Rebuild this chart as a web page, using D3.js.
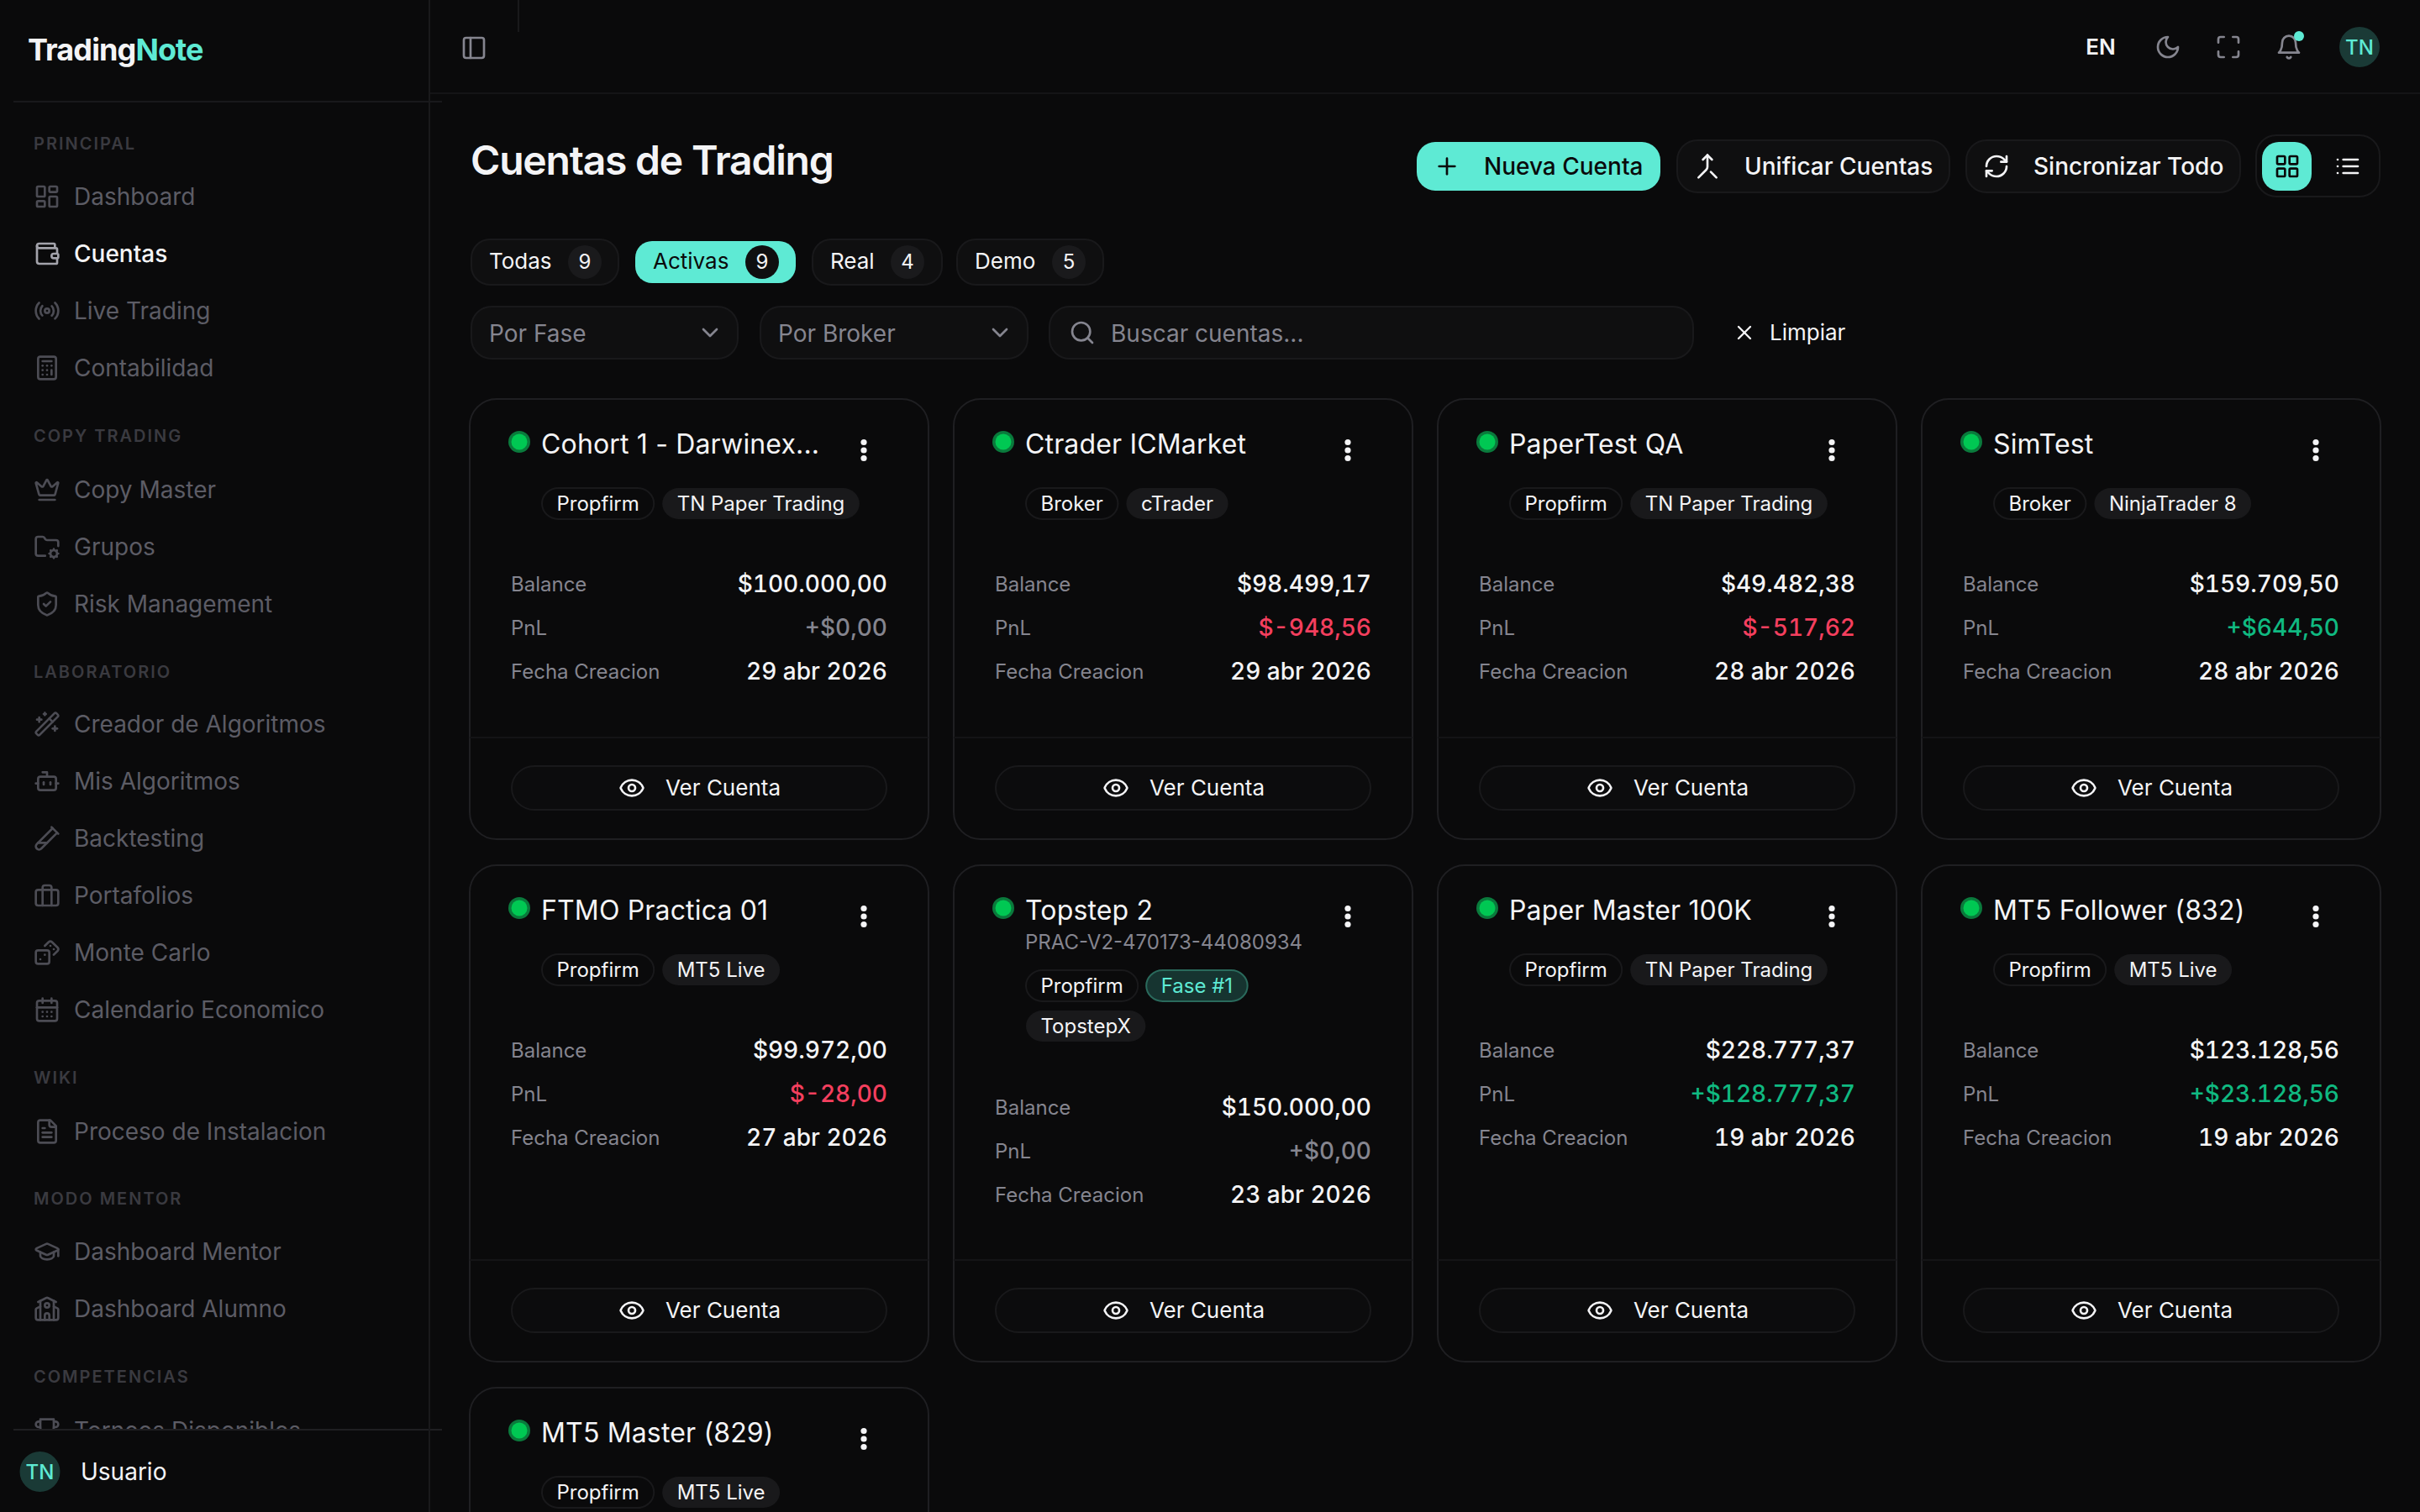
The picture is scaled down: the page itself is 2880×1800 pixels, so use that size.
<!DOCTYPE html>
<html>
<head>
<meta charset="utf-8">
<script src="https://cdn.jsdelivr.net/npm/d3@7"></script>
<style>
  html, body { margin: 0; background: #0a0a0b; overflow: hidden; }
  svg { display: block; }
  text { font-family: Inter, "Noto Sans", sans-serif; }
  .num { font-variant-numeric: tabular-nums; }
</style>
</head>
<body>
<svg id="page"></svg>
<script>
// accounts, in the order of the cards
var accountNames = ["Cohort 1 - Darwinex...", "Ctrader ICMarket", "PaperTest QA", "SimTest", "FTMO Practica 01", "Topstep 2", "Paper Master 100K", "MT5 Follower (832)", "MT5 Master (829)"];
var accountLogins = [null, null, null, null, null, "PRAC-V2-470173-44080934", null, null, null];
var accountTypes = ["Propfirm", "Broker", "Propfirm", "Broker", "Propfirm", "Propfirm", "Propfirm", "Propfirm", "Propfirm"];
var accountPhases = [null, null, null, null, null, "Fase #1", null, null, null];
var accountPlatforms = ["TN Paper Trading", "cTrader", "TN Paper Trading", "NinjaTrader 8", "MT5 Live", "TopstepX", "TN Paper Trading", "MT5 Live", "MT5 Live"];
var balances = [100000, 98499.17, 49482.38, 159709.5, 99972, 150000, 228777.37, 123128.56, 0];
var pnls = [0, -948.56, -517.62, 644.5, -28, 0, 128777.37, 23128.56, 0];
var createdDates = ["29 abr 2026", "29 abr 2026", "28 abr 2026", "28 abr 2026", "27 abr 2026", "23 abr 2026", "19 abr 2026", "19 abr 2026", ""];

var tabNames = ["Todas", "Activas", "Real", "Demo"];
var tabCounts = [9, 9, 4, 5];
var statLabels = ["Balance", "PnL", "Fecha Creacion"];

var navSections = ["PRINCIPAL", "COPY TRADING", "LABORATORIO", "WIKI", "MODO MENTOR", "COMPETENCIAS"];
var navItems = [
  ["Dashboard", "Cuentas", "Live Trading", "Contabilidad"],
  ["Copy Master", "Grupos", "Risk Management"],
  ["Creador de Algoritmos", "Mis Algoritmos", "Backtesting", "Portafolios", "Monte Carlo", "Calendario Economico"],
  ["Proceso de Instalacion"],
  ["Dashboard Mentor", "Dashboard Alumno"],
  ["Torneos Disponibles"]
];
var navIcons = [
  ["dashboard", "wallet", "radio", "calculator"],
  ["crown", "folder", "shield"],
  ["wand", "bot", "tube", "briefcase", "dice", "calendar"],
  ["file"],
  ["cap", "school"],
  ["trophy"]
];

var bg = "#0a0a0b", line = "#1f1f22", soft = "#19191b", white = "#f4f4f6", muted = "#85858f", dim = "#5c5c65", faint = "#3a3a40";
var teal = "#5eead4", pill = "#0f0f10", red = "#f43f5e", green = "#10b981";

function rr(x, y, w, h, r) {
  return "M" + (x + r) + " " + y + "h" + (w - 2 * r) + "a" + r + " " + r + " 0 0 1 " + r + " " + r + "v" + (h - 2 * r) + "a" + r + " " + r + " 0 0 1-" + r + " " + r + "h-" + (w - 2 * r) + "a" + r + " " + r + " 0 0 1-" + r + "-" + r + "v-" + (h - 2 * r) + "a" + r + " " + r + " 0 0 1 " + r + "-" + r + "z";
}
function circ(x, y, r) {
  return "M" + (x - r) + " " + y + "a" + r + " " + r + " 0 1 0 " + (2 * r) + " 0a" + r + " " + r + " 0 1 0-" + (2 * r) + " 0z";
}

var icons = {
  dashboard: [rr(3, 3, 7, 9, 1), rr(14, 3, 7, 5, 1), rr(14, 12, 7, 9, 1), rr(3, 16, 7, 5, 1)],
  wallet: ["M19 7V4a1 1 0 0 0-1-1H5a2 2 0 0 0 0 4h15a1 1 0 0 1 1 1v4h-3a2 2 0 0 0 0 4h3a1 1 0 0 0 1-1v-2a1 1 0 0 0-1-1", "M3 5v14a2 2 0 0 0 2 2h15a1 1 0 0 0 1-1v-4"],
  radio: ["M4.9 19.1C1 15.2 1 8.8 4.9 4.9", "M7.8 16.2c-2.3-2.3-2.3-6.1 0-8.5", circ(12, 12, 2), "M16.2 7.8c2.3 2.3 2.3 6.1 0 8.5", "M19.1 4.9C23 8.8 23 15.1 19.1 19"],
  calculator: [rr(4, 2, 16, 20, 2), "M8 6h8", "M16 14v4", "M16 10h.01", "M12 10h.01", "M8 10h.01", "M12 14h.01", "M8 14h.01", "M12 18h.01", "M8 18h.01"],
  crown: ["M11.562 3.266a.5.5 0 0 1 .876 0L15.39 8.87a1 1 0 0 0 1.516.294L21.183 5.5a.5.5 0 0 1 .798.519l-2.834 10.246a1 1 0 0 1-.956.734H5.81a1 1 0 0 1-.957-.734L2.02 6.02a.5.5 0 0 1 .798-.519l4.276 3.664a1 1 0 0 0 1.516-.294z", "M5 21h14"],
  folder: ["M10.3 20H4a2 2 0 0 1-2-2V5a2 2 0 0 1 2-2h3.98a2 2 0 0 1 1.69.9l.66 1.2A2 2 0 0 0 12 6h8a2 2 0 0 1 2 2v3.3", circ(18, 18, 3), "M18 14v1", "M18 21v1", "M22 18h-1", "M15 18h-1", "m20.8 15.2-.7.7", "m15.9 20.1-.7.7", "m20.8 20.8-.7-.7", "m15.9 15.9-.7-.7"],
  shield: ["M20 13c0 5-3.5 7.5-7.66 8.95a1 1 0 0 1-.67-.01C7.5 20.5 4 18 4 13V6a1 1 0 0 1 1-1c2 0 4.5-1.2 6.24-2.72a1.17 1.17 0 0 1 1.52 0C14.51 3.81 17 5 19 5a1 1 0 0 1 1 1z", "m9 12 2 2 4-4"],
  wand: ["m21.64 3.64-1.28-1.28a1.21 1.21 0 0 0-1.72 0L2.36 18.64a1.21 1.21 0 0 0 0 1.72l1.28 1.28a1.2 1.2 0 0 0 1.72 0L21.64 5.36a1.2 1.2 0 0 0 0-1.72", "m14 7 3 3", "M5 6v4", "M19 14v4", "M10 2v2", "M7 8H3", "M21 16h-4", "M11 3H9"],
  bot: ["M12 8V4H8", rr(4, 8, 16, 12, 2), "M2 14h2", "M20 14h2", "M15 13v2", "M9 13v2"],
  tube: ["M21 7 6.82 21.18a2.83 2.83 0 0 1-3.99-.01a2.83 2.83 0 0 1 0-4L17 3", "m16 2 6 6", "M12 16H4"],
  briefcase: [rr(2, 7, 20, 14, 2), "M16 21V5a2 2 0 0 0-2-2h-4a2 2 0 0 0-2 2v16"],
  dice: [rr(2, 10, 12, 12, 2), "m17.92 14 3.5-3.5a2.24 2.24 0 0 0 0-3l-5-4.92a2.24 2.24 0 0 0-3 0L10 6", "M6 18h.01", "M10 14h.01", "M15 6h.01", "M18 9h.01"],
  calendar: ["M8 2v4", "M16 2v4", rr(3, 4, 18, 18, 2), "M3 10h18", "M8 14h.01", "M12 14h.01", "M16 14h.01", "M8 18h.01", "M12 18h.01", "M16 18h.01"],
  file: ["M15 2H6a2 2 0 0 0-2 2v16a2 2 0 0 0 2 2h12a2 2 0 0 0 2-2V7Z", "M14 2v4a2 2 0 0 0 2 2h4", "M10 9H8", "M16 13H8", "M16 17H8"],
  cap: ["M21.42 10.922a1 1 0 0 0-.019-1.838L12.83 5.18a2 2 0 0 0-1.66 0L2.6 9.08a1 1 0 0 0 0 1.832l8.57 3.908a2 2 0 0 0 1.66 0z", "M22 10v6", "M6 12.5V16a6 3 0 0 0 12 0v-3.5"],
  school: ["M14 22v-4a2 2 0 1 0-4 0v4", "m18 10 3.447 1.724a1 1 0 0 1 .553.894V20a2 2 0 0 1-2 2H4a2 2 0 0 1-2-2v-7.382a1 1 0 0 1 .553-.894L6 10", "M18 5v17", "m4 6 7.106-3.553a2 2 0 0 1 1.788 0L20 6", "M6 5v17", circ(12, 9, 2)],
  trophy: ["M6 9H4.5a2.5 2.5 0 0 1 0-5H6", "M18 9h1.5a2.5 2.5 0 0 0 0-5H18", "M4 22h16", "M10 14.66V17c0 .55-.47.98-.97 1.21C7.85 18.75 7 20.24 7 22", "M14 14.66V17c0 .55.47.98.97 1.21C16.15 18.75 17 20.24 17 22", "M18 2H6v7a6 6 0 0 0 12 0V2Z"],
  panel: [rr(3, 3, 18, 18, 2), "M9 3v18"],
  moon: ["M12 3a6 6 0 0 0 9 9 9 9 0 1 1-9-9Z"],
  maximize: ["M8 3H5a2 2 0 0 0-2 2v3", "M21 8V5a2 2 0 0 0-2-2h-3", "M3 16v3a2 2 0 0 0 2 2h3", "M16 21h3a2 2 0 0 0 2-2v-3"],
  bell: ["M6 8a6 6 0 0 1 12 0c0 7 3 9 3 9H3s3-2 3-9", "M10.3 21a1.94 1.94 0 0 0 3.4 0"],
  plus: ["M5 12h14", "M12 5v14"],
  merge: ["m8 6 4-4 4 4", "M12 2v10.3a4 4 0 0 1-1.172 2.872L4 22", "m20 22-5-5"],
  refresh: ["M3 12a9 9 0 0 1 9-9 9.75 9.75 0 0 1 6.74 2.74L21 8", "M21 3v5h-5", "M21 12a9 9 0 0 1-9 9 9.75 9.75 0 0 1-6.74-2.74L3 16", "M8 16H3v5"],
  grid: [rr(3, 3, 7, 7, 1), rr(14, 3, 7, 7, 1), rr(14, 14, 7, 7, 1), rr(3, 14, 7, 7, 1)],
  list: ["M3 12h.01", "M3 18h.01", "M3 6h.01", "M8 12h13", "M8 18h13", "M8 6h13"],
  chevron: ["m6 9 6 6 6-6"],
  search: [circ(11, 11, 8), "m21 21-4.3-4.3"],
  x: ["M18 6 6 18", "m6 6 12 12"],
  eye: ["M2.062 12.348a1 1 0 0 1 0-.696 10.75 10.75 0 0 1 19.876 0 1 1 0 0 1 0 .696 10.75 10.75 0 0 1-19.876 0", circ(12, 12, 3)]
};

var svg = d3.select("#page").attr("width", 2880).attr("height", 1800);
svg.append("rect").attr("width", 2880).attr("height", 1800).attr("fill", bg);

function label(parent, str, x, y, size, fill, weight, anchor, spacing) {
  return parent.append("text")
    .attr("x", x).attr("y", y)
    .attr("font-size", size)
    .attr("font-weight", weight || 400)
    .attr("text-anchor", anchor || "start")
    .attr("letter-spacing", spacing || 0)
    .attr("fill", fill)
    .text(str);
}

function icon(parent, name, cx, cy, size, color, sw) {
  var g = parent.append("g")
    .attr("transform", "translate(" + (cx - size / 2) + "," + (cy - size / 2) + ") scale(" + size / 24 + ")")
    .attr("fill", "none")
    .attr("stroke", color)
    .attr("stroke-width", sw || 2)
    .attr("stroke-linecap", "round")
    .attr("stroke-linejoin", "round");
  g.selectAll("path").data(icons[name]).enter().append("path").attr("d", function(d) { return d; });
  return g;
}

function box(parent, x, y, w, h, r, fill, stroke) {
  return parent.append("rect")
    .attr("x", x + 1).attr("y", y + 1)
    .attr("width", w - 2).attr("height", h - 2)
    .attr("rx", r)
    .attr("fill", fill)
    .attr("stroke", stroke || "none")
    .attr("stroke-width", stroke ? 2 : 0);
}

// sidebar
var side = svg.append("g");
var sideClip = svg.append("clipPath").attr("id", "navClip");
sideClip.append("rect").attr("width", 510).attr("height", 1702);
var nav = side.append("g").attr("clip-path", "url(#navClip)");

var sectionY = d3.scaleOrdinal().domain(navSections).range([178, 526, 807, 1290, 1434, 1646]);
var itemY = [
  [244, 312, 380, 448],
  [593, 661, 729],
  [872, 940, 1008, 1076, 1144, 1212],
  [1357],
  [1500, 1568],
  [1713]
];

navSections.forEach(function(name, s) {
  label(nav, name, 40, sectionY(name), 20, faint, 600, "start", 2);
  navItems[s].forEach(function(item, i) {
    var active = item === "Cuentas";
    icon(nav, navIcons[s][i], 56, itemY[s][i] - 10, 32, active ? "#a3a3ab" : "#4c4c54", 2);
    label(nav, item, 88, itemY[s][i], 28, active ? white : dim, active ? 500 : 400);
  });
});

side.append("rect").attr("x", 16).attr("y", 120).attr("width", 510).attr("height", 2).attr("fill", soft);
side.append("rect").attr("x", 16).attr("y", 1701).attr("width", 510).attr("height", 2).attr("fill", line);
side.append("rect").attr("x", 510).attr("y", 0).attr("width", 2).attr("height", 1800).attr("fill", soft);

var logo = label(side, "Trading", 33, 72, 36, white, 700, "start", -0.9);
logo.append("tspan").attr("fill", teal).text("Note");

side.append("circle").attr("cx", 47.5).attr("cy", 1752).attr("r", 24).attr("fill", "#1a3a36");
label(side, "TN", 47.5, 1761, 24, teal, 500, "middle");
label(side, "Usuario", 96, 1762, 28, white, 400);

// top bar
var header = svg.append("g");
header.append("rect").attr("x", 512).attr("y", 110).attr("width", 2368).attr("height", 2).attr("fill", "#141416");
header.append("rect").attr("x", 616).attr("y", 0).attr("width", 2).attr("height", 38).attr("fill", soft);
icon(header, "panel", 564, 57, 32, "#85858f", 2);
label(header, "EN", 2500, 65, 26, white, 600, "middle");
icon(header, "moon", 2580, 56, 32, "#85858f", 2);
icon(header, "maximize", 2652, 56, 32, "#85858f", 2);
icon(header, "bell", 2724, 56, 32, "#85858f", 2);
header.append("circle").attr("cx", 2736).attr("cy", 43).attr("r", 6).attr("fill", teal);
header.append("circle").attr("cx", 2808).attr("cy", 56).attr("r", 24).attr("fill", "#1a3a36");
label(header, "TN", 2808, 65, 24, teal, 500, "middle");

label(header, "Cuentas de Trading", 560, 208, 48, white, 600, "start", -1.2);

box(header, 1685, 168, 292, 60, 22, teal);
icon(header, "plus", 1722, 198, 32, "#0a0a0b", 2);
label(header, "Nueva Cuenta", 1766, 208, 28, "#0a0a0b", 500);
box(header, 1995, 166, 326, 64, 24, pill, soft);
icon(header, "merge", 2032, 198, 32, white, 2);
label(header, "Unificar Cuentas", 2076, 208, 28, white, 500);
box(header, 2339, 166, 328, 64, 24, pill, soft);
icon(header, "refresh", 2376, 198, 32, white, 2);
label(header, "Sincronizar Todo", 2420, 208, 28, white, 500);
box(header, 2684, 160, 149, 75, 24, bg, soft);
box(header, 2691, 168, 61, 60, 20, teal);
icon(header, "grid", 2722, 198, 32, "#0a0a0b", 2);
icon(header, "list", 2794, 198, 32, white, 2);

// tabs
var tabLeft = [560, 755, 966, 1138];
var tabRight = [737, 948, 1122, 1314];
var tabBadge = [696, 907, 1080, 1272];
tabNames.forEach(function(name, i) {
  var active = name === "Activas";
  if (active) box(header, tabLeft[i], 286, tabRight[i] - tabLeft[i], 52, 20, teal);
  else box(header, tabLeft[i], 284, tabRight[i] - tabLeft[i], 56, 22, pill, soft);
  label(header, name, tabLeft[i] + 22, 320, 26, active ? "#0a0a0b" : white, 400);
  header.append("circle").attr("cx", tabBadge[i]).attr("cy", 312).attr("r", 20).attr("fill", active ? "#0f0f10" : "#1a1a1c");
  label(header, tabCounts[i], tabBadge[i], 320, 24, white, 400, "middle");
});

// filters
box(header, 560, 364, 319, 64, 24, pill, soft);
label(header, "Por Fase", 582, 407, 28, muted);
icon(header, "chevron", 845, 396, 32, muted, 2);
box(header, 904, 364, 320, 64, 24, pill, soft);
label(header, "Por Broker", 926, 407, 28, muted);
icon(header, "chevron", 1190, 396, 32, muted, 2);
box(header, 1248, 364, 768, 64, 24, pill, soft);
icon(header, "search", 1288, 396, 32, muted, 2);
label(header, "Buscar cuentas...", 1322, 407, 28, muted);
icon(header, "x", 2076, 396, 28, white, 2);
label(header, "Limpiar", 2106, 405, 26, white, 400);

// account cards
var cardX = d3.scaleBand().domain(d3.range(4)).range([558, 2862]).paddingInner(0).paddingOuter(0);
var cardW = 548;
var rowTop = d3.scaleOrdinal().domain([0, 1, 2]).range([474, 1029, 1651]);
var rowHeight = d3.scaleOrdinal().domain([0, 1, 2]).range([526, 593, 526]);

var money = d3.formatLocale({ decimal: ",", thousands: ".", grouping: [3], currency: ["$", ""] }).format(",.2f");
function pnlText(v) {
  return v < 0 ? "$-" + money(-v) : "+$" + money(v);
}
function pnlColor(v) {
  return v < 0 ? red : v > 0 ? green : muted;
}

function tag(parent, str, x, y, h, fill, stroke, color) {
  var t = label(parent, str, x + 18.5, y + h - 11, 24, color);
  var w = t.node().getComputedTextLength() + 37;
  box(parent, x, y, w, h, h / 2, fill, stroke);
  t.raise();
  return x + w;
}

var cards = svg.selectAll(".card")
  .data(d3.range(accountNames.length))
  .enter().append("g")
  .attr("class", "card")
  .attr("transform", function(i) { return "translate(" + cardX(i % 4) + "," + rowTop(Math.floor(i / 4)) + ")"; });

cards.each(function(i) {
  var card = d3.select(this);
  var row = Math.floor(i / 4);
  var h = rowHeight(row);
  box(card, 0, 0, cardW, h, 32, bg, line);

  card.append("circle").attr("cx", 60).attr("cy", 52).attr("r", 13).attr("fill", "#0a7a3c");
  card.append("circle").attr("cx", 60).attr("cy", 52).attr("r", 9.5).attr("fill", "#00c853");
  label(card, accountNames[i], 86, 66, 32, white, 400, "start", 0.16);
  card.selectAll(".dot").data([-9.5, 0, 9.5]).enter().append("circle")
    .attr("cx", 470).attr("cy", function(d) { return 62 + d; }).attr("r", 3.6).attr("fill", white);

  var hasLogin = accountLogins[i] !== null;
  if (hasLogin) label(card, accountLogins[i], 86, 101, 24, muted);

  var tagY = hasLogin ? 125 : 106;
  var tagH = 39;
  var nx = tag(card, accountTypes[i], 86, tagY, tagH, bg, soft, white);
  if (accountPhases[i]) {
    nx = tag(card, accountPhases[i], nx + 8, tagY, tagH, "#163430", "#2a6a5c", teal);
    tag(card, accountPlatforms[i], 86, tagY + 48, tagH, "#19191b", null, white);
  } else {
    tag(card, accountPlatforms[i], nx + 8, tagY, tagH, "#19191b", null, white);
  }

  var statY = hasLogin ? 297.5 : 230;
  var values = [
    { text: "$" + money(balances[i]), color: white },
    { text: pnlText(pnls[i]), color: pnlColor(pnls[i]) },
    { text: createdDates[i], color: white }
  ];
  if (row < 2) {
    statLabels.forEach(function(s, j) {
      label(card, s, 50, statY + j * 52, 24, muted);
      label(card, values[j].text, 498, statY + 1 + j * 52, 28, values[j].color, 500, "end").attr("class", "num");
    });
    card.append("rect").attr("x", 1).attr("y", h - 123).attr("width", cardW - 2).attr("height", 2).attr("fill", "#141416");
    box(card, 50, h - 89, 448, 54, 27, "#0c0c0d", soft);
    icon(card, "eye", 194, h - 62, 32, white, 2);
    label(card, "Ver Cuenta", 234, h - 53, 26, white, 400);
  }
});
</script>
</body>
</html>
